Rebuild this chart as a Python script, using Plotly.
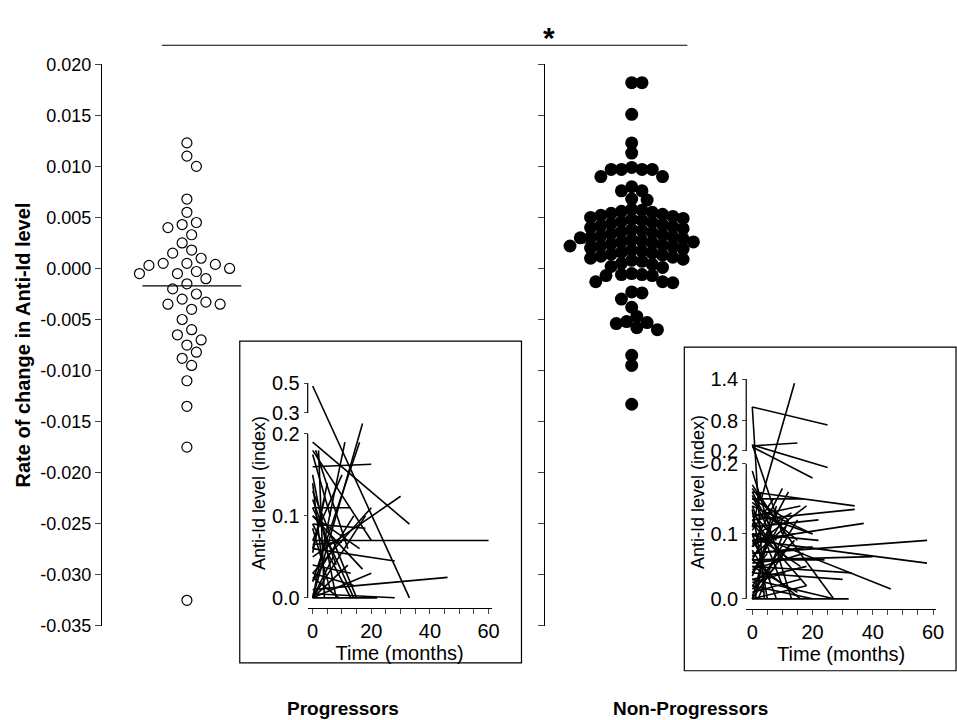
import numpy as np
import plotly.graph_objects as go

# ---------------- data ----------------
categories = ["Progressors", "Non-Progressors"]
prog = [0.0123, 0.0110, 0.0100, 0.0068, 0.0055, 0.0045, 0.0043, 0.0040, 0.0033, 0.0025,
        0.0018, 0.0015, 0.0010, 0.0005, 0.0005, 0.0003, 0.0004, 0.0000, -0.0003, -0.0005,
        -0.0005, -0.0010, -0.0015, -0.0020, -0.0025, -0.0030, -0.0033, -0.0035, -0.0035,
        -0.0040, -0.0050, -0.0060, -0.0065, -0.0070, -0.0075, -0.0082, -0.0088, -0.0095,
        -0.0110, -0.0135, -0.0175, -0.0325]
nonprog = [0.0182, 0.0182, 0.0151, 0.0123, 0.0113, 0.0099, 0.0097, 0.0097, 0.0097, 0.0097,
           0.0090, 0.0090, 0.0080, 0.0076, 0.0076, 0.0068, 0.0067,
           0.0058, 0.0057, 0.0056, 0.0055, 0.0054, 0.0053, 0.0052, 0.0051, 0.0050, 0.0049,
           0.0048, 0.0047, 0.0046, 0.0045, 0.0044, 0.0043, 0.0042, 0.0041, 0.0040, 0.0039,
           0.0038, 0.0037, 0.0036, 0.0035, 0.0034, 0.0033, 0.0032, 0.0031, 0.0030, 0.0030,
           0.0029, 0.0028, 0.0027, 0.0026, 0.0026, 0.0025, 0.0024, 0.0023, 0.0022, 0.0022,
           0.0021, 0.0020, 0.0019, 0.0018, 0.0017, 0.0016, 0.0015, 0.0014, 0.0013, 0.0012,
           0.0011, 0.0010, 0.0009, 0.0008, 0.0007, 0.0005, 0.0004, 0.0002, 0.0001,
           -0.0005, -0.0006, -0.0006, -0.0007, -0.0007, -0.0013, -0.0013, -0.0014,
           -0.0023, -0.0024, -0.0030, -0.0038, -0.0047, -0.0052, -0.0053, -0.0054,
           -0.0058, -0.0060, -0.0085, -0.0095, -0.0133]
centre_prog = -0.0017
centre_nonprog = 0.0025
main_ticks = [0.020, 0.015, 0.010, 0.005, 0.000, -0.005, -0.010, -0.015, -0.020, -0.025, -0.030, -0.035]

# inset segments: (t0, v0, t1, v1)
seg_prog = [(0,0.48,33,0.0),(0,0.19,33,0.09),(0,0.16,20,0.163),(0,0.0,17,0.25),(0,0.02,16,0.19),
            (0,0.07,60,0.07),(0,0.065,10,0.068),(0,0.01,46,0.025),(0,0.005,28,0.0),(0,0.0,22,0.0),
            (0,0.05,30,0.124),(0,0.06,28,0.045),(0,0.18,20,0.07),(0,0.13,15,0.0),(0,0.11,14,0.0),
            (0,0.15,8,0.0),(0,0.09,13,0.0),(0,0.03,20,0.11),(0,0.0,18,0.1),(0,0.1,17,0.035),
            (0,0.04,13,0.03),(0,0.02,14,0.1),(0,0.07,10,0.15),(0,0.12,8,0.04),(0,0.085,6,0.01),
            (0,0.055,5,0.14),(1,0.18,12,0.06),(0,0.0,11,0.19),(2,0.18,4,0.0),(0,0.14,3,0.05),
            (0,0.1,16,0.06),(0,0.0,7,0.05),(0,0.03,14,0.015),(0,0.06,4,0.12),(0,0.11,13,0.11),
            (0,0.09,18,0.085),(0,0.025,9,0.0),(0,0.0,12,0.04),(0,0.0,20,0.03),(0,0.175,6,0.1)]
seg_nonprog = [(0,1.0,25,0.72),(0,1.0,4,0.0),(3,0.15,14,1.34),(0,0.3,15,0.36),(0,0.32,25,0.195),
               (0,0.28,20,0.18),(0,0.33,10,0.1),(0,0.19,13,0.0),(0,0.16,34,0.14),(0,0.12,34,0.135),
               (0,0.09,37,0.115),(0,0.07,58,0.09),(0,0.09,58,0.055),(0,0.1,46,0.015),(0,0.06,40,0.065),
               (0,0.05,33,0.04),(0,0.04,30,0.03),(0,0.03,27,0.0),(0,0.0,32,0.0),(0,0.02,20,0.0),
               (0,0.165,27,0.0),(0,0.15,17,0.15),(0,0.13,20,0.1),(0,0.11,22,0.12),(0,0.1,16,0.05),
               (0,0.08,18,0.14),(0,0.06,12,0.16),(0,0.05,15,0.01),(0,0.04,10,0.12),(0,0.02,14,0.09),
               (0,0.0,12,0.08),(0,0.0,8,0.14),(0,0.01,16,0.03),(0,0.14,10,0.02),(0,0.12,12,0.06),
               (0,0.1,8,0.0),(0,0.085,14,0.1),(0,0.075,6,0.03),(0,0.065,11,0.11),(0,0.155,9,0.07),
               (0,0.145,15,0.09),(0,0.135,5,0.0),(0,0.115,18,0.02),(0,0.105,7,0.15),(0,0.095,13,0.13),
               (0,0.055,9,0.06),(0,0.045,17,0.07),(0,0.035,6,0.1),(0,0.025,11,0.04),(0,0.015,8,0.05),
               (0,0.005,15,0.12),(0,0.0,18,0.02),(0,0.16,6,0.11),(0,0.15,12,0.12),(0,0.125,16,0.14),
               (0,0.09,4,0.06),(0,0.07,20,0.08),(0,0.06,24,0.06),(0,0.03,18,0.05),(0,0.11,3,0.16),
               (0,0.08,10,0.165),(0,0.04,5,0.07),(0,0.13,8,0.09),(0,0.02,4,0.01),(0,0.1,22,0.09),
               (1,0.0,6,0.12),(2,0.0,12,0.12),(0,0.06,16,0.0),(0,0.14,20,0.1),(0,0.17,11,0.1)]

# ---------------- helpers ----------------
PX_PER_UNIT = 51 / 0.005  # main y-axis pixels per data unit

def swarm(vals, diam, tight):
    order = np.argsort(vals)[::-1]
    placed = []
    xs = np.zeros(len(vals))
    for i in order:
        y = vals[i] * PX_PER_UNIT
        best = None
        for k in range(0, 60):
            for s in ([0] if k == 0 else [k, -k]):
                x = s * diam * 0.4
                if all((x - p) ** 2 + (y - q) ** 2 >= (diam * tight) ** 2 for p, q in placed):
                    best = x
                    break
            if best is not None:
                break
        xs[i] = best
        placed.append((best, y))
    return xs

def f_left(v):
    return np.interp(v, [0, 0.1, 0.2, 0.3, 0.5], [0, 82, 164, 185, 215])

def f_right(v):
    v = np.asarray(v, float)
    lo = np.interp(v, [0, 0.1, 0.2], [0, 65, 135])
    hi = np.interp(v, [0.2, 0.8, 1.4], [148, 178, 220])
    return np.where(v > 0.2, hi, lo)

def seg_xy(segs, f):
    xs, ys = [], []
    for t0, v0, t1, v1 in segs:
        xs += [t0, t1, None]
        ys += [float(f(v0)), float(f(v1)), None]
    return xs, ys

W, H = 957, 720
# pixel -> paper, with a correction for how the page is rendered
px = lambda x: ((x + 1) / 0.9916) / W
py = lambda y: (H - (y - 8.7) / 0.973) / H

fig = go.Figure()
cx_p, cx_n = 86, 536
xp = swarm(np.array(prog), 12, 0.95)
xn = swarm(np.array(nonprog), 13, 0.75)
fig.add_trace(go.Scatter(x=cx_p + xp, y=prog, mode="markers",
                         marker=dict(size=10, color="white", line=dict(color="black", width=1.2))))
fig.add_trace(go.Scatter(x=cx_n + xn, y=nonprog, mode="markers",
                         marker=dict(size=13, color="black", line=dict(width=0))))
fig.add_trace(go.Scatter(x=[cx_p - 45, cx_p + 55], y=[centre_prog] * 2, mode="lines",
                         line=dict(color="black", width=1.3)))
fig.add_trace(go.Scatter(x=[cx_n - 52, cx_n + 60], y=[centre_nonprog] * 2, mode="lines",
                         line=dict(color="black", width=1.3)))
fig.add_trace(go.Scatter(x=[None], y=[None], yaxis="y2", showlegend=False))

lx, ly = seg_xy(seg_prog, f_left)
fig.add_trace(go.Scatter(x=lx, y=ly, xaxis="x3", yaxis="y3", mode="lines",
                         line=dict(color="black", width=1.6)))
rx, ry = seg_xy(seg_nonprog, f_right)
fig.add_trace(go.Scatter(x=rx, y=ry, xaxis="x4", yaxis="y4", mode="lines",
                         line=dict(color="black", width=1.6)))

font = dict(family="Liberation Sans, Arial", color="black")
ydom = [py(625), py(63)]
inset_xticks = list(range(0, 61, 5))
inset_xtext = [str(t) if t % 20 == 0 else "" for t in inset_xticks]

lvals = [0, 0.1, 0.2, 0.3, 0.5]
rvals = [0, 0.1, 0.2, 0.2001, 0.8, 1.4]
fig.update_layout(
    autosize=True, margin=dict(l=0, r=0, t=0, b=0), showlegend=False,
    paper_bgcolor="white", plot_bgcolor="rgba(0,0,0,0)", font=dict(size=16, **font),
    xaxis=dict(domain=[px(100), 1], range=[0, 857], visible=False),
    yaxis=dict(domain=ydom, range=[-0.035, 0.020], tickvals=main_ticks,
               ticktext=[f"{v:.3f}" for v in main_ticks], ticks="outside", ticklen=6,
               showline=True, linecolor="black", linewidth=1.2, showgrid=False, zeroline=False,
               tickfont=dict(size=18), title=dict(text="<b>Rate of change in Anti-Id level</b>",
               font=dict(size=20), standoff=4)),
    yaxis2=dict(overlaying="y", anchor="free", position=px(543), range=[-0.035, 0.020],
                tickvals=main_ticks, showticklabels=False, ticks="outside", ticklen=6,
                showline=True, linecolor="black", linewidth=1.2, showgrid=False, zeroline=False),
    xaxis3=dict(domain=[px(306), px(490)], range=[-1.7, 61], anchor="y3",
                tickvals=inset_xticks, ticktext=inset_xtext, ticks="outside", ticklen=5,
                showline=True, linecolor="black", showgrid=False, zeroline=False,
                tickfont=dict(size=20), title=dict(text="Time (months)", font=dict(size=20), standoff=0)),
    yaxis3=dict(domain=[py(607), py(377)], range=[-10, 220], anchor="free", position=px(306),
                tickvals=[float(f_left(v)) for v in lvals], ticktext=["0.0", "0.1", "0.2", "0.3", "0.5"],
                ticks="outside", ticklen=4, showline=False, showgrid=False, zeroline=False,
                tickfont=dict(size=20), title=dict(text="Anti-Id level (index)", font=dict(size=18), standoff=0)),
    xaxis4=dict(domain=[px(745), min(1, px(935))], range=[-2, 61], anchor="y4",
                tickvals=inset_xticks, ticktext=inset_xtext, ticks="outside", ticklen=5,
                showline=True, linecolor="black", showgrid=False, zeroline=False,
                tickfont=dict(size=20), title=dict(text="Time (months)", font=dict(size=20), standoff=0)),
    yaxis4=dict(domain=[py(608), py(374)], range=[-10, 224], anchor="free", position=px(745),
                tickvals=[float(f_right(v)) for v in rvals], ticktext=["0.0", "0.1", "0.2", "0.2", "0.8", "1.4"],
                ticks="outside", ticklen=4, showline=False, showgrid=False, zeroline=False,
                tickfont=dict(size=20), title=dict(text="Anti-Id level (index)", font=dict(size=18), standoff=0)),
)

shapes = [
    dict(type="rect", xref="paper", yref="paper", x0=px(238), x1=px(520), y0=py(662), y1=py(340),
         line=dict(color="black", width=1.2), fillcolor="white", layer="below"),
    dict(type="rect", xref="paper", yref="paper", x0=px(683), x1=px(955), y0=py(670), y1=py(346),
         line=dict(color="black", width=1.2), fillcolor="white", layer="below"),
    dict(type="line", xref="paper", yref="paper", x0=px(160), x1=px(686), y0=py(44), y1=py(44),
         line=dict(color="black", width=1.2)),
    dict(type="line", xref="paper", yref="y3", x0=px(306), x1=px(306), y0=f_left(0), y1=f_left(0.2),
         line=dict(color="black", width=1.2)),
    dict(type="line", xref="paper", yref="y3", x0=px(306), x1=px(306), y0=f_left(0.3), y1=f_left(0.5),
         line=dict(color="black", width=1.2)),
    dict(type="line", xref="paper", yref="y4", x0=px(745), x1=px(745), y0=0, y1=135,
         line=dict(color="black", width=1.2)),
    dict(type="line", xref="paper", yref="y4", x0=px(745), x1=px(745), y0=148, y1=220,
         line=dict(color="black", width=1.2)),
]
fig.update_layout(shapes=shapes)
fig.add_annotation(x=px(548), y=py(18), xref="paper", yref="paper", text="<b>*</b>",
                   showarrow=False, font=dict(size=30))
fig.add_annotation(x=px(283), y=py(720), xref="paper", yref="paper", text="<b>Progressors</b>",
                   showarrow=False, font=dict(size=19))
fig.add_annotation(x=px(769), y=py(720), xref="paper", yref="paper", text="<b>Non-Progressors</b>",
                   showarrow=False, font=dict(size=19))

fig.write_html("out.html", default_width="100vw", default_height="100vh",
               config=dict(displayModeBar=False, responsive=True),
               post_script="document.body.style.margin='0';document.body.style.overflow='hidden';")
